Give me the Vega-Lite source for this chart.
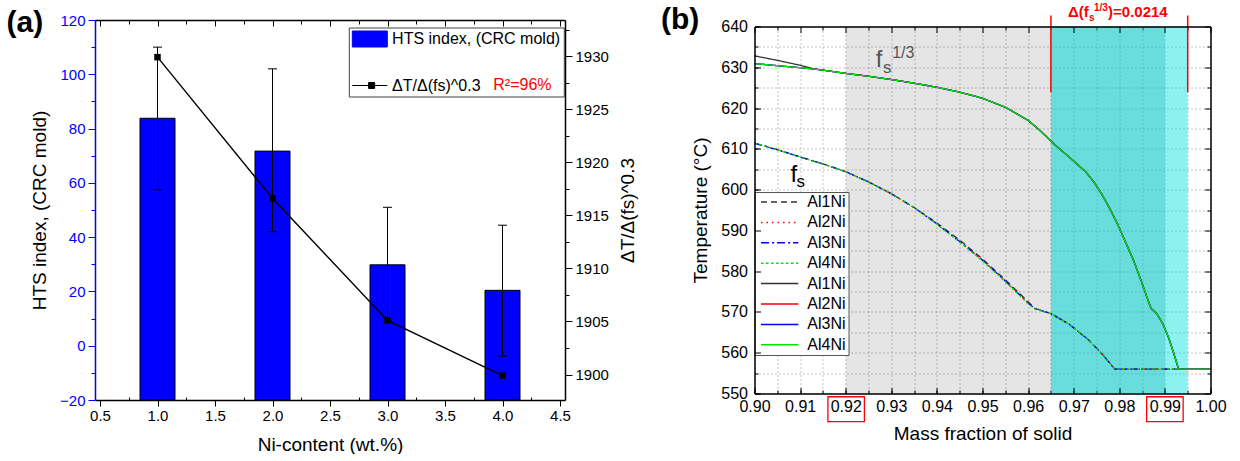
{
"$schema": "https://vega.github.io/schema/vega-lite/v6.json",
"autosize": {"type": "pad"},
"padding": {"left": 6, "top": 3, "right": 0, "bottom": 0},
"background": "#ffffff",
"config": {
  "font": "Liberation Sans",
  "view": {"stroke": null},
  "axis": {"labelFont": "Liberation Sans", "titleFont": "Liberation Sans", "titleFontWeight": "normal", "labelColor": "#000000", "titleColor": "#000000", "domainColor": "#000000", "tickColor": "#000000", "grid": false, "labelFlush": false, "labelOverlap": false, "tickWidth": 1},
  "legend": {"labelFont": "Liberation Sans", "labelColor": "#000000"},
  "text": {"font": "Liberation Sans"}
},
"bounds": "flush",
"center": true,
"spacing": 189.5,
"resolve": {"scale": {"color": "independent", "strokeDash": "independent"}, "legend": {"color": "independent", "strokeDash": "independent"}},
"hconcat": [
{
  "width": 470, "height": 380,
  "resolve": {"scale": {"y": "independent"}, "axis": {"x": "independent", "y": "independent"}},
  "layer": [
    {
      "data": {"values": [
        {"ni": 1, "hts": 83.8, "lo": 57.4, "hi": 110.0, "series": "HTS index, (CRC mold)"},
        {"ni": 2, "hts": 71.7, "lo": 42.0, "hi": 102.0, "series": "HTS index, (CRC mold)"},
        {"ni": 3, "hts": 29.8, "lo": 8.6, "hi": 51.0, "series": "HTS index, (CRC mold)"},
        {"ni": 4, "hts": 20.4, "lo": -3.8, "hi": 44.4, "series": "HTS index, (CRC mold)"}
      ]},
      "mark": {"type": "bar", "size": 35, "stroke": "#000000", "strokeWidth": 1, "opacity": 1},
      "encoding": {
        "x": {"field": "ni", "type": "quantitative", "scale": {"domain": [0.5, 4.5], "nice": false, "zero": false},
          "axis": {"orient": "bottom", "values": [0.5, 1, 1.5, 2, 2.5, 3, 3.5, 4, 4.5], "format": ".1f", "labelFontSize": 15, "labelPadding": 2, "tickSize": 6, "domainWidth": 1.5, "title": "Ni-content (wt.%)", "titleFontSize": 19, "titlePadding": 12}},
        "y": {"field": "hts", "type": "quantitative", "scale": {"domain": [-20, 120], "nice": false, "zero": false},
          "axis": {"orient": "left", "values": [-20, 0, 20, 40, 60, 80, 100, 120], "labelFontSize": 15, "labelPadding": 3, "labelColor": "#0000ff", "tickColor": "#0000ff", "domainColor": "#0000ff", "tickSize": 7, "domainWidth": 1.5, "title": "HTS index, (CRC mold)", "titleFontSize": 19, "titlePadding": 10}},
        "y2": {"datum": -20},
        "color": {"field": "series", "type": "nominal",
          "scale": {"domain": ["HTS index, (CRC mold)", "ΔT/Δ(fs)^0.3"], "range": ["#0000ff", "#000000"]},
          "legend": {"title": null, "orient": "none", "legendX": 253.8, "legendY": 7.5, "direction": "vertical", "labelFontSize": 16, "labelLimit": 400, "padding": 3, "strokeColor": "#444444", "fillColor": "transparent", "rowPadding": 27.5, "labelOffset": 23.3, "symbolSize": 256, "symbolStrokeWidth": 1,
            "encode": {"symbols": {"update": {
              "shape": {"signal": "datum.value === 'HTS index, (CRC mold)' ? 'M-1,-1H3.375V1H-1Z' : 'M-1,0H3.375M1.04,-0.375H1.79V0.375H1.04Z'"},
              "fill": {"signal": "datum.value === 'HTS index, (CRC mold)' ? '#0000ff' : '#000000'"},
              "stroke": {"value": "#000000"}, "strokeWidth": {"value": 1}, "opacity": {"value": 1}, "fillOpacity": {"value": 1}, "strokeOpacity": {"value": 1}}}}}}
      }
    },
    {
      "data": {"values": [
        {"ni": 1, "lo": 57.4, "hi": 110.0},
        {"ni": 2, "lo": 42.0, "hi": 102.0},
        {"ni": 3, "lo": 8.6, "hi": 51.0},
        {"ni": 4, "lo": -3.8, "hi": 44.4}
      ]},
      "mark": {"type": "rule", "color": "#000000", "strokeWidth": 1},
      "encoding": {
        "x": {"field": "ni", "type": "quantitative", "scale": {"domain": [0.5, 4.5], "nice": false, "zero": false}, "axis": null},
        "y": {"field": "lo", "type": "quantitative", "scale": {"domain": [-20, 120], "nice": false, "zero": false}, "axis": null},
        "y2": {"field": "hi"}
      }
    },
    {
      "data": {"values": [
        {"ni": 1, "lo": 57.4, "hi": 110.0},
        {"ni": 2, "lo": 42.0, "hi": 102.0},
        {"ni": 3, "lo": 8.6, "hi": 51.0},
        {"ni": 4, "lo": -3.8, "hi": 44.4}
      ]},
      "transform": [{"fold": ["lo", "hi"], "as": ["end", "val"]}],
      "mark": {"type": "tick", "orient": "horizontal", "size": 9, "thickness": 1, "color": "#000000", "opacity": 1},
      "encoding": {
        "x": {"field": "ni", "type": "quantitative", "scale": {"domain": [0.5, 4.5], "nice": false, "zero": false}, "axis": null},
        "y": {"field": "val", "type": "quantitative", "scale": {"domain": [-20, 120], "nice": false, "zero": false}, "axis": null}
      }
    },
    {
      "data": {"values": [
        {"ni": 1, "dt": 1929.9, "series": "ΔT/Δ(fs)^0.3"},
        {"ni": 2, "dt": 1916.6, "series": "ΔT/Δ(fs)^0.3"},
        {"ni": 3, "dt": 1905.1, "series": "ΔT/Δ(fs)^0.3"},
        {"ni": 4, "dt": 1899.9, "series": "ΔT/Δ(fs)^0.3"}
      ]},
      "mark": {"type": "line", "strokeWidth": 1.4},
      "encoding": {
        "x": {"field": "ni", "type": "quantitative", "scale": {"domain": [0.5, 4.5], "nice": false, "zero": false},
          "axis": {"orient": "top", "values": [0.5, 1, 1.5, 2, 2.5, 3, 3.5, 4, 4.5], "labels": false, "tickSize": -6, "domainWidth": 1.5, "title": null}},
        "y": {"field": "dt", "type": "quantitative", "scale": {"domain": [1897.6, 1933.4], "nice": false, "zero": false},
          "axis": {"orient": "right", "values": [1900, 1905, 1910, 1915, 1920, 1925, 1930], "format": "d", "tickSize": 7, "labelFontSize": 15, "labelPadding": 3, "domainWidth": 1.5, "title": "ΔT/Δ(fs)^0.3", "titleFontSize": 19, "titlePadding": 10, "titleAngle": 270, "titleBaseline": "top"}},
        "color": {"field": "series", "type": "nominal",
          "scale": {"domain": ["HTS index, (CRC mold)", "ΔT/Δ(fs)^0.3"], "range": ["#0000ff", "#000000"]},
          "legend": {"title": null, "orient": "none", "legendX": 253.8, "legendY": 7.5, "direction": "vertical", "labelFontSize": 16, "labelLimit": 400, "padding": 3, "strokeColor": "#444444", "fillColor": "transparent", "rowPadding": 27.5, "labelOffset": 23.3, "symbolSize": 256, "symbolStrokeWidth": 1,
            "encode": {"symbols": {"update": {
              "shape": {"signal": "datum.value === 'HTS index, (CRC mold)' ? 'M-1,-1H3.375V1H-1Z' : 'M-1,0H3.375M1.04,-0.375H1.79V0.375H1.04Z'"},
              "fill": {"signal": "datum.value === 'HTS index, (CRC mold)' ? '#0000ff' : '#000000'"},
              "stroke": {"value": "#000000"}, "strokeWidth": {"value": 1}, "opacity": {"value": 1}, "fillOpacity": {"value": 1}, "strokeOpacity": {"value": 1}}}}}}
      }
    },
    {
      "data": {"values": [
        {"ni": 1, "dt": 1929.9},
        {"ni": 2, "dt": 1916.6},
        {"ni": 3, "dt": 1905.1},
        {"ni": 4, "dt": 1899.9}
      ]},
      "mark": {"type": "square", "size": 42, "color": "#000000", "filled": true, "opacity": 1},
      "encoding": {
        "x": {"field": "ni", "type": "quantitative", "scale": {"domain": [0.5, 4.5], "nice": false, "zero": false},
          "axis": {"orient": "top", "values": [0.75, 1.25, 1.75, 2.25, 2.75, 3.25, 3.75, 4.25], "labels": false, "domain": false, "tickSize": -4, "title": null}},
        "y": {"field": "dt", "type": "quantitative", "scale": {"domain": [1897.6, 1933.4], "nice": false, "zero": false},
          "axis": {"orient": "right", "values": [1902.5, 1907.5, 1912.5, 1917.5, 1922.5, 1927.5, 1932.5], "labels": false, "domain": false, "tickSize": 4, "title": null}}
      }
    },
    {
      "data": {"values": [{"label": "R²=96%"}]},
      "mark": {"type": "text", "color": "#ff0000", "fontSize": 16, "align": "left", "baseline": "middle"},
      "encoding": {
        "text": {"field": "label"},
        "x": {"datum": 3.92, "type": "quantitative", "scale": {"domain": [0.5, 4.5], "nice": false, "zero": false},
          "axis": {"orient": "bottom", "values": [0.75, 1.25, 1.75, 2.25, 2.75, 3.25, 3.75, 4.25], "labels": false, "domain": false, "tickSize": -3, "title": null}},
        "y": {"datum": 96.05, "type": "quantitative", "scale": {"domain": [-20, 120], "nice": false, "zero": false},
          "axis": {"orient": "left", "values": [-10, 10, 30, 50, 70, 90, 110], "labels": false, "domain": false, "tickSize": 4, "tickColor": "#0000ff", "title": null}}
      }
    },
    {
      "data": {"values": [{"label": "(a)"}]},
      "mark": {"type": "text", "color": "#000000", "fontSize": 30, "fontWeight": "bold", "align": "left", "baseline": "top", "dx": -93.5, "dy": -11.9},
      "encoding": {
        "text": {"field": "label"},
        "x": {"datum": 0.5, "type": "quantitative", "scale": {"domain": [0.5, 4.5], "nice": false, "zero": false}, "axis": null},
        "y": {"datum": 120, "type": "quantitative", "scale": {"domain": [-20, 120], "nice": false, "zero": false}, "axis": null}
      }
    }
  ]
},
{
  "width": 456, "height": 367,
  "resolve": {"axis": {"x": "independent", "y": "independent"}},
  "layer": [
    {
      "data": {"values": [{"from": 0.92, "to": 0.965}]},
      "mark": {"type": "rect", "color": "#000000", "opacity": 0.1},
      "encoding": {
        "x": {"field": "from", "type": "quantitative", "scale": {"domain": [0.9, 1.0], "nice": false, "zero": false},
          "axis": {"orient": "bottom", "values": [0.9, 0.91, 0.92, 0.93, 0.94, 0.95, 0.96, 0.97, 0.98, 0.99, 1.0], "format": ".2f", "ticks": false, "tickSize": 0, "labelFontSize": 16, "labelPadding": 5, "domainWidth": 1.5, "title": "Mass fraction of solid", "titleFontSize": 19, "titlePadding": 10, "zindex": 1}},
        "x2": {"field": "to"},
        "y": {"datum": 550, "type": "quantitative", "scale": {"domain": [550, 640], "nice": false, "zero": false},
          "axis": {"orient": "left", "values": [550, 560, 570, 580, 590, 600, 610, 620, 630, 640], "ticks": false, "tickSize": 0, "labelFontSize": 16, "labelPadding": 7, "domainWidth": 1.5, "title": "Temperature (°C)", "titleFontSize": 19, "titlePadding": 10, "zindex": 1}},
        "y2": {"datum": 640}
      }
    },
    {
      "data": {"values": [{"from": 0.965, "to": 0.995}]},
      "mark": {"type": "rect", "color": "#00e0e0", "opacity": 0.45},
      "encoding": {
        "x": {"field": "from", "type": "quantitative", "scale": {"domain": [0.9, 1.0], "nice": false, "zero": false},
          "axis": {"orient": "bottom", "values": [0.9, 0.91, 0.92, 0.93, 0.94, 0.95, 0.96, 0.97, 0.98, 0.99, 1.0], "labels": false, "domain": false, "tickSize": -6, "title": null, "zindex": 1}},
        "x2": {"field": "to"},
        "y": {"datum": 550, "type": "quantitative", "scale": {"domain": [550, 640], "nice": false, "zero": false},
          "axis": {"orient": "left", "values": [550, 560, 570, 580, 590, 600, 610, 620, 630, 640], "labels": false, "domain": false, "tickSize": -6, "title": null, "zindex": 1}},
        "y2": {"datum": 640}
      }
    },
    {
      "data": {"values": [{"from": 0.965, "to": 0.99}]},
      "mark": {"type": "rect", "color": "#00a0a0", "opacity": 0.25},
      "encoding": {
        "x": {"field": "from", "type": "quantitative", "scale": {"domain": [0.9, 1.0], "nice": false, "zero": false},
          "axis": {"orient": "top", "values": [0.9, 0.91, 0.92, 0.93, 0.94, 0.95, 0.96, 0.97, 0.98, 0.99, 1.0], "labels": false, "domainWidth": 1.5, "tickSize": -6, "title": null, "zindex": 1}},
        "x2": {"field": "to"},
        "y": {"datum": 550, "type": "quantitative", "scale": {"domain": [550, 640], "nice": false, "zero": false},
          "axis": {"orient": "right", "values": [550, 560, 570, 580, 590, 600, 610, 620, 630, 640], "labels": false, "domainWidth": 1.5, "tickSize": -6, "title": null, "zindex": 1}},
        "y2": {"datum": 640}
      }
    },
    {
      "data": {"values": [
        {"f": 0.9, "Al1Ni_fs": 611.4, "Al2Ni_fs": 611.4, "Al3Ni_fs": 611.4, "Al4Ni_fs": 611.4},
        {"f": 0.905, "Al1Ni_fs": 609.8, "Al2Ni_fs": 609.8, "Al3Ni_fs": 609.8, "Al4Ni_fs": 609.8},
        {"f": 0.91, "Al1Ni_fs": 608.0, "Al2Ni_fs": 608.0, "Al3Ni_fs": 608.0, "Al4Ni_fs": 608.0},
        {"f": 0.915, "Al1Ni_fs": 606.3, "Al2Ni_fs": 606.3, "Al3Ni_fs": 606.3, "Al4Ni_fs": 606.3},
        {"f": 0.92, "Al1Ni_fs": 604.4, "Al2Ni_fs": 604.4, "Al3Ni_fs": 604.4, "Al4Ni_fs": 604.4},
        {"f": 0.925, "Al1Ni_fs": 601.9, "Al2Ni_fs": 601.9, "Al3Ni_fs": 601.9, "Al4Ni_fs": 601.9},
        {"f": 0.93, "Al1Ni_fs": 599.0, "Al2Ni_fs": 599.0, "Al3Ni_fs": 599.0, "Al4Ni_fs": 599.0},
        {"f": 0.935, "Al1Ni_fs": 595.6, "Al2Ni_fs": 595.6, "Al3Ni_fs": 595.6, "Al4Ni_fs": 595.6},
        {"f": 0.94, "Al1Ni_fs": 591.8, "Al2Ni_fs": 591.6, "Al3Ni_fs": 591.6, "Al4Ni_fs": 591.5},
        {"f": 0.945, "Al1Ni_fs": 587.6, "Al2Ni_fs": 587.3, "Al3Ni_fs": 587.3, "Al4Ni_fs": 587.1},
        {"f": 0.95, "Al1Ni_fs": 583.0, "Al2Ni_fs": 582.7, "Al3Ni_fs": 582.7, "Al4Ni_fs": 582.5},
        {"f": 0.955, "Al1Ni_fs": 577.9, "Al2Ni_fs": 577.6, "Al3Ni_fs": 577.6, "Al4Ni_fs": 577.4},
        {"f": 0.96, "Al1Ni_fs": 572.5, "Al2Ni_fs": 572.2, "Al3Ni_fs": 572.2, "Al4Ni_fs": 572.0},
        {"f": 0.9615, "Al1Ni_fs": 570.9, "Al2Ni_fs": 570.8, "Al3Ni_fs": 570.8, "Al4Ni_fs": 570.7},
        {"f": 0.965, "Al1Ni_fs": 569.6, "Al2Ni_fs": 569.6, "Al3Ni_fs": 569.6, "Al4Ni_fs": 569.6},
        {"f": 0.969, "Al1Ni_fs": 567.0, "Al2Ni_fs": 567.0, "Al3Ni_fs": 567.0, "Al4Ni_fs": 567.0},
        {"f": 0.973, "Al1Ni_fs": 563.4, "Al2Ni_fs": 563.4, "Al3Ni_fs": 563.4, "Al4Ni_fs": 563.4},
        {"f": 0.976, "Al1Ni_fs": 560.0, "Al2Ni_fs": 560.0, "Al3Ni_fs": 560.0, "Al4Ni_fs": 560.0},
        {"f": 0.979, "Al1Ni_fs": 556.0, "Al2Ni_fs": 556.0, "Al3Ni_fs": 556.0, "Al4Ni_fs": 556.0},
        {"f": 0.993, "Al1Ni_fs": 556.0, "Al2Ni_fs": 556.0, "Al3Ni_fs": 556.0, "Al4Ni_fs": 556.0}
      ]},
      "transform": [{"fold": ["Al1Ni_fs", "Al2Ni_fs", "Al3Ni_fs", "Al4Ni_fs"], "as": ["series", "T"]}],
      "mark": {"type": "line", "strokeWidth": 1.3},
      "encoding": {
        "x": {"field": "f", "type": "quantitative", "scale": {"domain": [0.9, 1.0], "nice": false, "zero": false},
          "axis": {"orient": "bottom", "values": [0.9, 0.905, 0.91, 0.915, 0.92, 0.925, 0.93, 0.935, 0.94, 0.945, 0.95, 0.955, 0.96, 0.965, 0.97, 0.975, 0.98, 0.985, 0.99, 0.995, 1.0], "labels": false, "domain": false, "tickSize": -3.5, "grid": true, "gridColor": "#c4c4c4", "gridDash": [2, 2], "gridWidth": 1, "title": null}},
        "y": {"field": "T", "type": "quantitative", "scale": {"domain": [550, 640], "nice": false, "zero": false},
          "axis": {"orient": "left", "values": [550, 555, 560, 565, 570, 575, 580, 585, 590, 595, 600, 605, 610, 615, 620, 625, 630, 635, 640], "labels": false, "domain": false, "tickSize": -3.5, "grid": true, "gridColor": "#c4c4c4", "gridDash": [2, 2], "gridWidth": 1, "title": null}},
        "color": {"field": "series", "type": "nominal",
          "scale": {"domain": ["Al1Ni_fs", "Al2Ni_fs", "Al3Ni_fs", "Al4Ni_fs", "Al1Ni_f3", "Al2Ni_f3", "Al3Ni_f3", "Al4Ni_f3"], "range": ["#333333", "#ff0000", "#0000ff", "#00e600", "#333333", "#ff0000", "#0000ff", "#00e600"]},
          "legend": {"title": null, "orient": "none", "legendX": 0, "legendY": 165.5, "labelFontSize": 16, "labelExpr": "split(datum.label, '_')[0]", "symbolType": "M-1,0H9.66", "symbolSize": 49, "symbolStrokeWidth": 1.5, "padding": 2, "labelOffset": 34.8, "rowPadding": 4.4, "strokeColor": "#555555", "fillColor": "#ffffff", "labelLimit": 200}},
        "strokeDash": {"field": "series", "type": "nominal",
          "scale": {"domain": ["Al1Ni_fs", "Al2Ni_fs", "Al3Ni_fs", "Al4Ni_fs", "Al1Ni_f3", "Al2Ni_f3", "Al3Ni_f3", "Al4Ni_f3"], "range": [[6, 4], [1.5, 4], [8, 3, 2, 3], [2.5, 2.5], [1, 0], [1, 0], [1, 0], [1, 0]]},
          "legend": {"title": null, "orient": "none", "legendX": 0, "legendY": 165.5, "labelFontSize": 16, "labelExpr": "split(datum.label, '_')[0]", "symbolType": "M-1,0H9.66", "symbolSize": 49, "symbolStrokeWidth": 1.5, "padding": 2, "labelOffset": 34.8, "rowPadding": 4.4, "strokeColor": "#555555", "fillColor": "#ffffff", "labelLimit": 200}}
      }
    },
    {
      "data": {"values": [
        {"f": 0.9, "Al1Ni_f3": 632.8, "Al2Ni_f3": 630.9, "Al3Ni_f3": 630.9, "Al4Ni_f3": 630.9},
        {"f": 0.905, "Al1Ni_f3": 631.7, "Al2Ni_f3": 630.4, "Al3Ni_f3": 630.4, "Al4Ni_f3": 630.4},
        {"f": 0.91, "Al1Ni_f3": 630.5, "Al2Ni_f3": 629.9, "Al3Ni_f3": 629.9, "Al4Ni_f3": 629.9},
        {"f": 0.9127, "Al1Ni_f3": 629.7, "Al2Ni_f3": 629.6, "Al3Ni_f3": 629.6, "Al4Ni_f3": 629.6},
        {"f": 0.915, "Al1Ni_f3": 629.3, "Al2Ni_f3": 629.3, "Al3Ni_f3": 629.3, "Al4Ni_f3": 629.3},
        {"f": 0.92, "Al1Ni_f3": 628.5, "Al2Ni_f3": 628.5, "Al3Ni_f3": 628.5, "Al4Ni_f3": 628.5},
        {"f": 0.925, "Al1Ni_f3": 627.8, "Al2Ni_f3": 627.8, "Al3Ni_f3": 627.8, "Al4Ni_f3": 627.8},
        {"f": 0.93, "Al1Ni_f3": 627.0, "Al2Ni_f3": 627.0, "Al3Ni_f3": 627.0, "Al4Ni_f3": 627.0},
        {"f": 0.935, "Al1Ni_f3": 626.1, "Al2Ni_f3": 626.1, "Al3Ni_f3": 626.1, "Al4Ni_f3": 626.1},
        {"f": 0.94, "Al1Ni_f3": 625.1, "Al2Ni_f3": 625.1, "Al3Ni_f3": 625.1, "Al4Ni_f3": 625.1},
        {"f": 0.945, "Al1Ni_f3": 623.9, "Al2Ni_f3": 623.9, "Al3Ni_f3": 623.9, "Al4Ni_f3": 623.9},
        {"f": 0.95, "Al1Ni_f3": 622.4, "Al2Ni_f3": 622.4, "Al3Ni_f3": 622.4, "Al4Ni_f3": 622.4},
        {"f": 0.955, "Al1Ni_f3": 620.2, "Al2Ni_f3": 620.2, "Al3Ni_f3": 620.2, "Al4Ni_f3": 620.2},
        {"f": 0.96, "Al1Ni_f3": 617.0, "Al2Ni_f3": 617.0, "Al3Ni_f3": 617.0, "Al4Ni_f3": 617.0},
        {"f": 0.9625, "Al1Ni_f3": 614.6, "Al2Ni_f3": 614.6, "Al3Ni_f3": 614.6, "Al4Ni_f3": 614.6},
        {"f": 0.9655, "Al1Ni_f3": 611.4, "Al2Ni_f3": 611.4, "Al3Ni_f3": 611.4, "Al4Ni_f3": 611.4},
        {"f": 0.9673, "Al1Ni_f3": 609.6, "Al2Ni_f3": 609.6, "Al3Ni_f3": 609.6, "Al4Ni_f3": 609.6},
        {"f": 0.9691, "Al1Ni_f3": 607.9, "Al2Ni_f3": 607.9, "Al3Ni_f3": 607.9, "Al4Ni_f3": 607.9},
        {"f": 0.9708, "Al1Ni_f3": 606.2, "Al2Ni_f3": 606.2, "Al3Ni_f3": 606.2, "Al4Ni_f3": 606.2},
        {"f": 0.9726, "Al1Ni_f3": 604.4, "Al2Ni_f3": 604.4, "Al3Ni_f3": 604.4, "Al4Ni_f3": 604.4},
        {"f": 0.9744, "Al1Ni_f3": 601.9, "Al2Ni_f3": 601.9, "Al3Ni_f3": 601.9, "Al4Ni_f3": 601.9},
        {"f": 0.9761, "Al1Ni_f3": 599.0, "Al2Ni_f3": 599.0, "Al3Ni_f3": 599.0, "Al4Ni_f3": 599.0},
        {"f": 0.9778, "Al1Ni_f3": 595.6, "Al2Ni_f3": 595.6, "Al3Ni_f3": 595.6, "Al4Ni_f3": 595.6},
        {"f": 0.9796, "Al1Ni_f3": 591.6, "Al2Ni_f3": 591.6, "Al3Ni_f3": 591.6, "Al4Ni_f3": 591.6},
        {"f": 0.9813, "Al1Ni_f3": 587.3, "Al2Ni_f3": 587.3, "Al3Ni_f3": 587.3, "Al4Ni_f3": 587.3},
        {"f": 0.9831, "Al1Ni_f3": 582.7, "Al2Ni_f3": 582.7, "Al3Ni_f3": 582.7, "Al4Ni_f3": 582.7},
        {"f": 0.9848, "Al1Ni_f3": 577.6, "Al2Ni_f3": 577.6, "Al3Ni_f3": 577.6, "Al4Ni_f3": 577.6},
        {"f": 0.9865, "Al1Ni_f3": 572.2, "Al2Ni_f3": 572.2, "Al3Ni_f3": 572.2, "Al4Ni_f3": 572.2},
        {"f": 0.987, "Al1Ni_f3": 570.8, "Al2Ni_f3": 570.8, "Al3Ni_f3": 570.8, "Al4Ni_f3": 570.8},
        {"f": 0.9882, "Al1Ni_f3": 569.6, "Al2Ni_f3": 569.6, "Al3Ni_f3": 569.6, "Al4Ni_f3": 569.6},
        {"f": 0.9896, "Al1Ni_f3": 567.0, "Al2Ni_f3": 567.0, "Al3Ni_f3": 567.0, "Al4Ni_f3": 567.0},
        {"f": 0.9909, "Al1Ni_f3": 563.4, "Al2Ni_f3": 563.4, "Al3Ni_f3": 563.4, "Al4Ni_f3": 563.4},
        {"f": 0.9919, "Al1Ni_f3": 560.0, "Al2Ni_f3": 560.0, "Al3Ni_f3": 560.0, "Al4Ni_f3": 560.0},
        {"f": 0.993, "Al1Ni_f3": 556.0, "Al2Ni_f3": 556.0, "Al3Ni_f3": 556.0, "Al4Ni_f3": 556.0},
        {"f": 1.0, "Al1Ni_f3": 556.0, "Al2Ni_f3": 556.0, "Al3Ni_f3": 556.0, "Al4Ni_f3": 556.0}
      ]},
      "transform": [{"fold": ["Al1Ni_f3", "Al2Ni_f3", "Al3Ni_f3", "Al4Ni_f3"], "as": ["series", "T"]}],
      "mark": {"type": "line", "strokeWidth": 1.3},
      "encoding": {
        "x": {"field": "f", "type": "quantitative", "scale": {"domain": [0.9, 1.0], "nice": false, "zero": false},
          "axis": {"orient": "top", "values": [0.905, 0.915, 0.925, 0.935, 0.945, 0.955, 0.965, 0.975, 0.985, 0.995], "labels": false, "domain": false, "tickSize": -3.5, "title": null}},
        "y": {"field": "T", "type": "quantitative", "scale": {"domain": [550, 640], "nice": false, "zero": false},
          "axis": {"orient": "right", "values": [555, 565, 575, 585, 595, 605, 615, 625, 635], "labels": false, "domain": false, "tickSize": -3.5, "title": null}},
        "color": {"field": "series", "type": "nominal",
          "scale": {"domain": ["Al1Ni_fs", "Al2Ni_fs", "Al3Ni_fs", "Al4Ni_fs", "Al1Ni_f3", "Al2Ni_f3", "Al3Ni_f3", "Al4Ni_f3"], "range": ["#333333", "#ff0000", "#0000ff", "#00e600", "#333333", "#ff0000", "#0000ff", "#00e600"]},
          "legend": {"title": null, "orient": "none", "legendX": 0, "legendY": 165.5, "labelFontSize": 16, "labelExpr": "split(datum.label, '_')[0]", "symbolType": "M-1,0H9.66", "symbolSize": 49, "symbolStrokeWidth": 1.5, "padding": 2, "labelOffset": 34.8, "rowPadding": 4.4, "strokeColor": "#555555", "fillColor": "#ffffff", "labelLimit": 200}},
        "strokeDash": {"field": "series", "type": "nominal",
          "scale": {"domain": ["Al1Ni_fs", "Al2Ni_fs", "Al3Ni_fs", "Al4Ni_fs", "Al1Ni_f3", "Al2Ni_f3", "Al3Ni_f3", "Al4Ni_f3"], "range": [[6, 4], [1.5, 4], [8, 3, 2, 3], [2.5, 2.5], [1, 0], [1, 0], [1, 0], [1, 0]]},
          "legend": {"title": null, "orient": "none", "legendX": 0, "legendY": 165.5, "labelFontSize": 16, "labelExpr": "split(datum.label, '_')[0]", "symbolType": "M-1,0H9.66", "symbolSize": 49, "symbolStrokeWidth": 1.5, "padding": 2, "labelOffset": 34.8, "rowPadding": 4.4, "strokeColor": "#555555", "fillColor": "#ffffff", "labelLimit": 200}}
      }
    },
    {
      "data": {"values": [{"f": 0.965}, {"f": 0.995}]},
      "mark": {"type": "rule", "color": "#ff0000", "strokeWidth": 1.5},
      "encoding": {
        "x": {"field": "f", "type": "quantitative", "axis": null},
        "y": {"datum": 623.9, "type": "quantitative", "axis": null},
        "y2": {"datum": 642.7}
      }
    },
    {
      "data": {"values": [{"lo": 0.9161, "hi": 0.9241}, {"lo": 0.986, "hi": 0.994}]},
      "mark": {"type": "rect", "filled": false, "color": "#ff0000", "strokeWidth": 1.3},
      "encoding": {
        "x": {"field": "lo", "type": "quantitative", "axis": null},
        "x2": {"field": "hi"},
        "y": {"datum": 549.2, "type": "quantitative", "axis": null},
        "y2": {"datum": 543.1}
      }
    },
    {
      "data": {"values": [{"label": "f"}]},
      "mark": {"type": "text", "color": "#555555", "fontSize": 24, "align": "center", "baseline": "middle"},
      "encoding": {"text": {"field": "label"}, "x": {"datum": 0.9273, "type": "quantitative", "axis": null}, "y": {"datum": 631.8, "type": "quantitative", "axis": null}}
    },
    {
      "data": {"values": [{"label": "s"}]},
      "mark": {"type": "text", "color": "#555555", "fontSize": 17, "align": "left", "baseline": "middle"},
      "encoding": {"text": {"field": "label"}, "x": {"datum": 0.9282, "type": "quantitative", "axis": null}, "y": {"datum": 629.9, "type": "quantitative", "axis": null}}
    },
    {
      "data": {"values": [{"label": "1/3"}]},
      "mark": {"type": "text", "color": "#555555", "fontSize": 16, "align": "left", "baseline": "middle"},
      "encoding": {"text": {"field": "label"}, "x": {"datum": 0.9302, "type": "quantitative", "axis": null}, "y": {"datum": 633.6, "type": "quantitative", "axis": null}}
    },
    {
      "data": {"values": [{"label": "f"}]},
      "mark": {"type": "text", "color": "#000000", "fontSize": 24, "align": "center", "baseline": "middle"},
      "encoding": {"text": {"field": "label"}, "x": {"datum": 0.9086, "type": "quantitative", "axis": null}, "y": {"datum": 603.7, "type": "quantitative", "axis": null}}
    },
    {
      "data": {"values": [{"label": "s"}]},
      "mark": {"type": "text", "color": "#000000", "fontSize": 17, "align": "left", "baseline": "middle"},
      "encoding": {"text": {"field": "label"}, "x": {"datum": 0.9092, "type": "quantitative", "axis": null}, "y": {"datum": 601.8, "type": "quantitative", "axis": null}}
    },
    {
      "data": {"values": [{"label": "Δ(f"}]},
      "mark": {"type": "text", "color": "#ff0000", "fontSize": 15, "fontWeight": "bold", "align": "right", "baseline": "middle"},
      "encoding": {"text": {"field": "label"}, "x": {"datum": 0.97329, "type": "quantitative", "axis": null}, "y": {"datum": 643.5, "type": "quantitative", "axis": null}}
    },
    {
      "data": {"values": [{"label": "s"}]},
      "mark": {"type": "text", "color": "#ff0000", "fontSize": 10, "fontWeight": "bold", "align": "left", "baseline": "middle"},
      "encoding": {"text": {"field": "label"}, "x": {"datum": 0.97335, "type": "quantitative", "axis": null}, "y": {"datum": 642.2, "type": "quantitative", "axis": null}}
    },
    {
      "data": {"values": [{"label": "1/3"}]},
      "mark": {"type": "text", "color": "#ff0000", "fontSize": 10, "fontWeight": "bold", "align": "left", "baseline": "middle"},
      "encoding": {"text": {"field": "label"}, "x": {"datum": 0.97443, "type": "quantitative", "axis": null}, "y": {"datum": 644.5, "type": "quantitative", "axis": null}}
    },
    {
      "data": {"values": [{"label": ")=0.0214"}]},
      "mark": {"type": "text", "color": "#ff0000", "fontSize": 15, "fontWeight": "bold", "align": "left", "baseline": "middle"},
      "encoding": {"text": {"field": "label"}, "x": {"datum": 0.97754, "type": "quantitative", "axis": null}, "y": {"datum": 643.5, "type": "quantitative", "axis": null}}
    },
    {
      "data": {"values": [{"label": "(b)"}]},
      "mark": {"type": "text", "color": "#000000", "fontSize": 30, "fontWeight": "bold", "align": "left", "baseline": "top", "dx": -93.5, "dy": -21.2},
      "encoding": {"text": {"field": "label"}, "x": {"datum": 0.9, "type": "quantitative", "axis": null}, "y": {"datum": 640, "type": "quantitative", "axis": null}}
    }
  ]
}
]
}
